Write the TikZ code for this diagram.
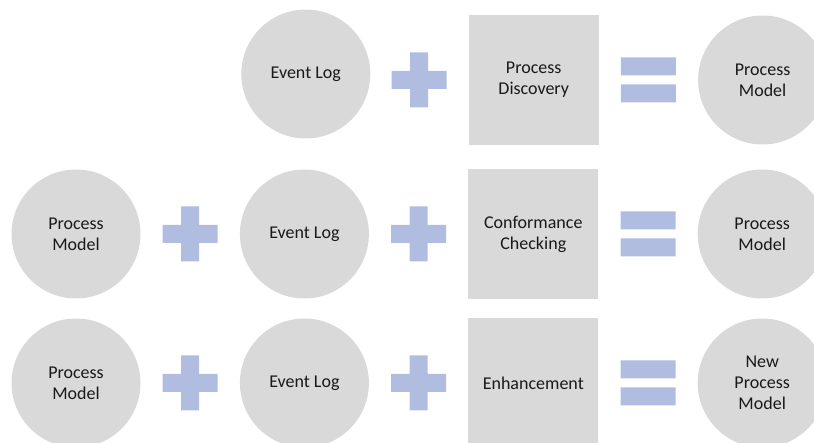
\documentclass[tikz,border=0pt]{standalone}
\usepackage{fontspec}
\setmainfont{Carlito}
\usetikzlibrary{chains,positioning}
\definecolor{boxgrey}{RGB}{217,217,217}
\definecolor{symblue}{RGB}{177,189,224}

\begin{document}
\begin{tikzpicture}[x=1pt, y=-1pt,
node distance=22pt,
    ring/.style = {circle, fill=boxgrey, minimum size=129pt, inner sep=0pt,% round steps
                   align=center, text=black!90,
                   font=\fontsize{18}{21}\selectfont},
    task/.style = {rectangle, fill=boxgrey, minimum size=130pt, inner sep=0pt,% mining task
                   align=center, text=black!90,
                   font=\fontsize{18}{21}\selectfont},
   addop/.style = {minimum size=55pt, inner sep=0pt, outer sep=0pt},% "+" sign
    eqop/.style = {minimum width=55pt, minimum height=45pt, inner sep=0pt, outer sep=0pt},% "=" sign
                        ]
\useasboundingbox (0,0) rectangle (814,443);
% discovery
\begin{scope}[start chain=R1 going right]
\node[addop, on chain] at (419,80) {};
\node[task, on chain] {Process\\Discovery};
\node[eqop, on chain] {};
\node[ring, on chain] {Process\\Model};
\end{scope}
\node[ring, left=21pt of R1-1, yshift=6pt] (log1) {Event Log};
% conformance
\begin{scope}[start chain=R2 going right]
\node[ring, on chain] at (76,234) {Process\\Model};
\node[addop, on chain] {};
\node[ring, on chain] {Event Log};
\node[addop, on chain] {};
\node[task, on chain] {Conformance\\Checking};
\node[eqop, on chain] {};
\node[ring, on chain] {Process\\Model};
\end{scope}
% enhancement
\begin{scope}[start chain=R3 going right]
\node[ring, on chain] at (76,383) {Process\\Model};
\node[addop, on chain] {};
\node[ring, on chain] {Event Log};
\node[addop, on chain] {};
\node[task, on chain] {Enhancement};
\node[eqop, on chain] {};
\node[ring, on chain] {New\\Process\\Model};
\end{scope}
% signs
\foreach \p in {R1-1,R2-2,R2-4,R3-2,R3-4}
    \fill[symblue] ([xshift=-9pt]\p.north) rectangle ([xshift=9pt]\p.south)
                   ([yshift=9pt]\p.west) rectangle ([yshift=-9pt]\p.east);
\foreach \q in {R1-3,R2-6,R3-6}
    \fill[symblue] (\q.north west) rectangle ([yshift=-18pt]\q.north east)
                   ([yshift=18pt]\q.south west) rectangle (\q.south east);
\end{tikzpicture}
\end{document}
